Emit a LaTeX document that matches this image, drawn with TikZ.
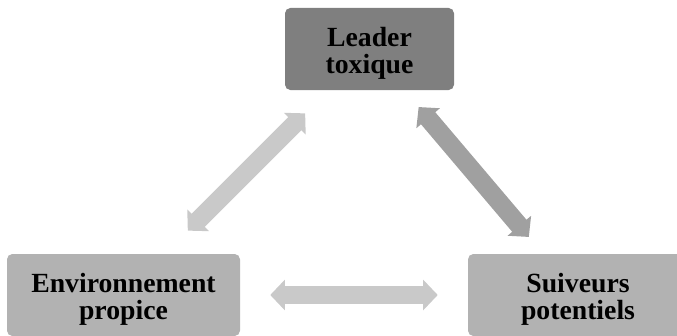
\documentclass[tikz,border=0pt]{standalone}
\usepackage{fontspec}
\setmainfont{Liberation Serif}
\usetikzlibrary{arrows.meta}
\definecolor{darkbox}{HTML}{7F7F7F}
\definecolor{lightbox}{HTML}{B2B2B2}
\definecolor{lightarr}{HTML}{C9C9C9}
\definecolor{darkarr}{HTML}{A0A0A0}
\newcommand{\firststrut}{\rule{0pt}{20.5pt}}

\begin{document}
\begin{tikzpicture}[x=0.75pt, y=-0.75pt,
    box/.style={rounded corners=4pt, align=center, inner sep=0pt,
      font=\fontsize{20.8}{20.5}\selectfont\bfseries, minimum height=61.5pt},
    dblarr/.style={line width=14pt, {Triangle[width=22.5pt,length=11pt]}-{Triangle[width=22.5pt,length=11pt]}}]

    \useasboundingbox (0,0) rectangle (677,335);
    \clip (0,0) rectangle (677,335);

    \node[box, fill=darkbox, minimum width=126.75pt] (leader) at (369.5, 49) {\firststrut Leader\\toxique};
    \node[box, fill=lightbox, minimum width=174.75pt] (env) at (123.5, 295) {\firststrut Environnement\\propice};
    \node[box, fill=lightbox, minimum width=165pt] (suiv) at (578, 295) {\firststrut Suiveurs\\potentiels};

    \draw [dblarr, draw=lightarr, shorten <=24.5pt, shorten >=24.5pt] (env) to (leader);
    \draw [dblarr, draw=darkarr, shorten <=16.5pt, shorten >=16.5pt] (leader) to (suiv);
    \draw [dblarr, draw=lightarr, shorten <=22.5pt, shorten >=22.5pt] (env) to (suiv);

  \end{tikzpicture}
\end{document}
